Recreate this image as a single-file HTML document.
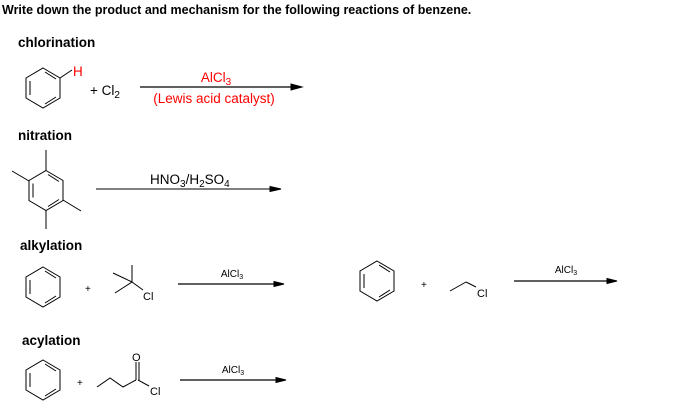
<!DOCTYPE html>
<html><head><meta charset="utf-8"><style>
html,body{margin:0;padding:0;background:#fff;}
svg{display:block;}
.b{font-family:"Liberation Sans",sans-serif;font-weight:bold;font-size:13.5px;fill:#000;}
.ttl{font-family:"Liberation Sans",sans-serif;font-weight:bold;font-size:12.5px;fill:#000;}
.t{font-family:"Liberation Sans",sans-serif;font-size:13.5px;fill:#000;}
.s{font-family:"Liberation Sans",sans-serif;font-size:10px;fill:#000;}
line,polyline,polygon{stroke:#000;stroke-width:1;fill:none;}
</style></head><body>
<svg width="685" height="416" viewBox="0 0 685 416" xmlns="http://www.w3.org/2000/svg">
<defs>
<g id="bz">
<polygon points="0,-20 17,-10 17,10 0,20 -17,10 -17,-10"/>
<line x1="-13" y1="-7" x2="-13" y2="7"/>
<line x1="2" y1="-16" x2="13" y2="-9"/>
<line x1="2" y1="16" x2="13" y2="9"/>
</g>
</defs>
<text x="2" y="14" class="ttl">Write down the product and mechanism for the following reactions of benzene.</text>

<text x="18" y="47" class="b">chlorination</text>
<use href="#bz" transform="translate(43,88)"/>
<line x1="60" y1="78" x2="72" y2="70"/>
<text x="73" y="76" class="t" style="fill:red">H</text>
<text x="90" y="95" class="t">+ Cl<tspan font-size="10" dy="3">2</tspan></text>
<line x1="140" y1="87" x2="295" y2="87" style="stroke-width:1.3"/>
<polygon points="302,87 291,84 291,90" style="fill:#000"/>
<text x="216" y="82" class="t" text-anchor="middle" style="fill:red">AlCl<tspan font-size="10" dy="3">3</tspan></text>
<text x="214" y="103" class="t" text-anchor="middle" style="fill:red">(Lewis acid catalyst)</text>

<text x="18" y="140" class="b">nitration</text>
<use href="#bz" transform="translate(46,190.5)"/>
<line x1="46" y1="150" x2="46" y2="170"/>
<line x1="29" y1="181" x2="12" y2="171"/>
<line x1="63" y1="200" x2="81" y2="211"/>
<line x1="46" y1="210" x2="46" y2="229"/>
<line x1="96" y1="189" x2="274" y2="189"/>
<polygon points="281,189 270,186.5 270,191.5" style="fill:#000"/>
<text x="150" y="184" class="t">HNO<tspan font-size="10" dy="3">3</tspan><tspan dy="-3">/H</tspan><tspan font-size="10" dy="3">2</tspan><tspan dy="-3">SO</tspan><tspan font-size="10" dy="3">4</tspan></text>

<text x="20" y="250" class="b">alkylation</text>
<use href="#bz" transform="translate(43,287)"/>
<text x="85" y="292" class="s">+</text>
<line x1="132" y1="265" x2="132" y2="282"/>
<line x1="113" y1="273" x2="132" y2="282"/>
<line x1="115" y1="293" x2="132" y2="282"/>
<line x1="132" y1="282" x2="143" y2="290"/>
<text x="143" y="300" class="t" style="font-size:11px">Cl</text>
<line x1="178" y1="284" x2="277" y2="284" style="stroke-width:1.3"/>
<polygon points="284,284 274,281.5 274,286.5" style="fill:#000"/>
<text x="232" y="277" class="s" text-anchor="middle">AlCl<tspan font-size="7" dy="2">3</tspan></text>

<use href="#bz" transform="translate(377,281)"/>
<text x="421" y="288" class="s">+</text>
<line x1="450" y1="291" x2="466" y2="282"/>
<line x1="466" y1="282" x2="476" y2="287"/>
<text x="477" y="297" class="t" style="font-size:11px">Cl</text>
<line x1="514" y1="281" x2="610" y2="281" style="stroke-width:1.3"/>
<polygon points="617,281 607,278.5 607,283.5" style="fill:#000"/>
<text x="566" y="273" class="s" text-anchor="middle">AlCl<tspan font-size="7" dy="2">3</tspan></text>

<text x="22" y="345" class="b">acylation</text>
<use href="#bz" transform="translate(43,380)"/>
<text x="77" y="386" class="s">+</text>
<polyline points="97,387 110,378 123,387 136,380"/>
<line x1="136" y1="380" x2="136" y2="362"/>
<line x1="139" y1="380" x2="139" y2="362"/>
<text x="132" y="361" class="t" style="font-size:11px">O</text>
<line x1="138" y1="380" x2="149" y2="386"/>
<text x="150" y="395" class="t" style="font-size:11px">Cl</text>
<line x1="180" y1="380" x2="279" y2="380" style="stroke-width:1.3"/>
<polygon points="286,380 276,377.5 276,382.5" style="fill:#000"/>
<text x="233" y="373" class="s" text-anchor="middle">AlCl<tspan font-size="7" dy="2">3</tspan></text>
</svg>
</body></html>
